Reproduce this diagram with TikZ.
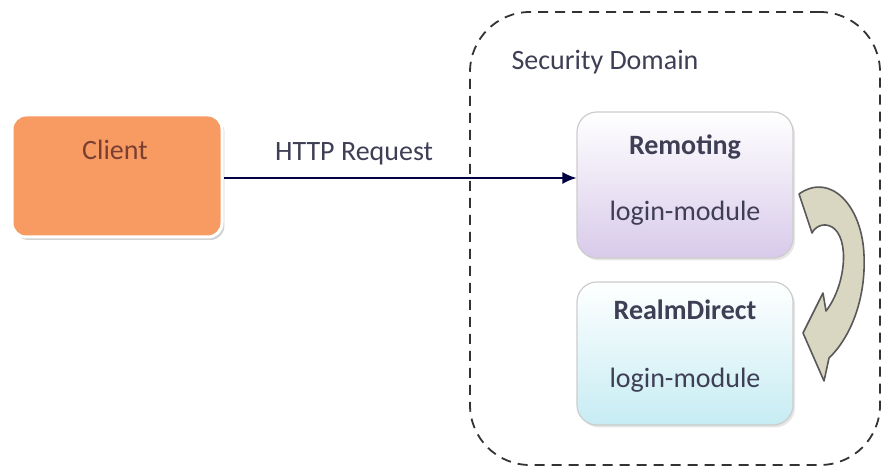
\documentclass[tikz,border=0pt]{standalone}
\usepackage{fontspec}
\setmainfont{Carlito}
\usetikzlibrary{arrows.meta,shadows}
\definecolor{clientfill}{HTML}{F79B62}
\definecolor{clienttext}{HTML}{7B3F32}
\definecolor{domtext}{HTML}{3E3E55}
\definecolor{lavender}{HTML}{D8CAEA}
\definecolor{icecyan}{HTML}{C6ECF3}
\definecolor{loopfill}{HTML}{D9D6C1}
\tikzset{every node/.append style={font=\fontsize{14}{16}\selectfont, text=domtext}}
\tikzset{secdomain/.style={draw=black!80, line width=0.9pt, dash pattern=on 5pt off 3.5pt, rounded corners=30pt}}
\tikzset{clientbox/.style={rectangle, rounded corners=7pt, fill=clientfill, draw=white, line width=1.5pt, minimum width=105pt, minimum height=61pt, drop shadow={opacity=0.35, shadow xshift=1.2pt, shadow yshift=-1.5pt}}}
\tikzset{module/.style={rectangle, rounded corners=10pt, draw=black!20, line width=0.6pt, minimum width=108pt, top color=white, bottom color=#1, drop shadow={opacity=0.2, shadow xshift=1pt, shadow yshift=-1.2pt}}}
\tikzset{request/.style={draw=black!75!blue, line width=0.8pt, -{Latex[length=7pt, width=6pt]}}}
\tikzset{turnarrow/.style={fill=loopfill, draw=black!65, line width=0.8pt, line join=round}}

\begin{document}
\begin{tikzpicture}[x=0.5pt, y=-0.5pt]
\useasboundingbox (0,0) rectangle (881,469);
%security domain
\node (dom) at (675,238.5)[secdomain, minimum width=205pt, minimum height=226.5pt]{};
\node (domlabel) at (605,62){Security Domain};
%client
\node (client) at (117,176)[clientbox]{};
\node (clientlabel) at (115,150)[text=clienttext]{Client};
%login modules
\node (rem) at (685,185)[module=lavender, minimum height=73pt]{};
\node (remname) at (685,147){\textbf{Remoting}};
\node (remlogin) at (685,213){login-module};
\node (realm) at (685,353.5)[module=icecyan, minimum height=71.5pt]{};
\node (realmname) at (685,310){\textbf{RealmDirect}};
\node (realmlogin) at (685,380){login-module};

\draw[request] (client.east |- 0,178) -- (rem.west |- 0,178) node[pos=0.37, above=3pt]{HTTP Request};

%curved arrow
\draw[turnarrow] (799,194) .. controls (830,172) and (862,205) .. (864,255)
  .. controls (866,300) and (850,338) .. (829,358)
  -- (824,381) -- (803,333) -- (823,293) -- (826,311)
  .. controls (846,285) and (850,238) .. (832,227)
  .. controls (823,222) and (815,227) .. (812,233) -- cycle;
\end{tikzpicture}
\end{document}
